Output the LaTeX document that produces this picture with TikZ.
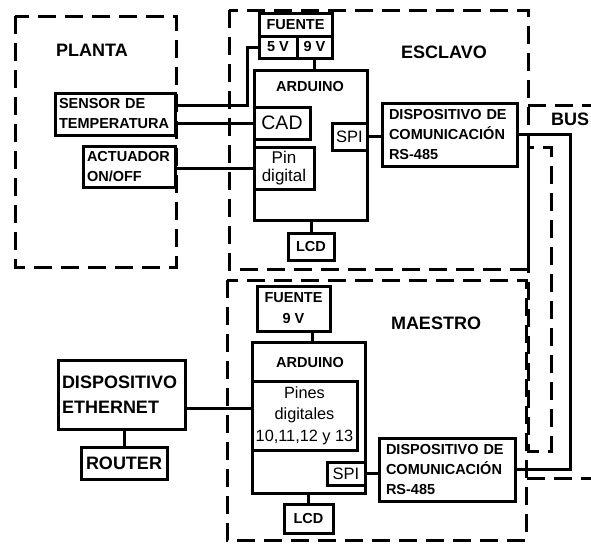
\documentclass[tikz,border=0pt]{standalone}
\usepackage{fontspec}
\setmainfont{Liberation Sans}

\begin{document}
\begin{tikzpicture}[
  x=1pt,y=-1pt,
  blk/.style={draw=black,line width=3pt,inner sep=0pt,
              font=\bfseries\fontsize{14.5}{20}\selectfont},
  txtbox/.style={blk,align=left,inner xsep=4pt},
  lbl/.style={inner sep=0pt,font=\bfseries\fontsize{14.5}{20}\selectfont},
  title/.style={inner sep=0pt,font=\bfseries\fontsize{18}{21}\selectfont},
  reg/.style={font=\fontsize{16.5}{18}\selectfont},
  zone/.style={line width=3pt,dash pattern=on 18pt off 9pt},
  wire/.style={line width=3pt}
]
\useasboundingbox (0,0) rectangle (591,544);

\draw[zone] (15,16) rectangle (176,267);
\draw[zone] (229,10) rectangle (528,269);
\draw[zone] (227,280) rectangle (526,540);
\draw[zone] (528,105) -- (591,105);
\draw[zone] (527,478) -- (591,478);
\draw[zone] (528,147) rectangle (551,451);

\node[title] (planta)  at (92,50)  {PLANTA};
\node[title] (esclavo) at (444,52) {ESCLAVO};
\node[title] (maestro) at (436,323) {MAESTRO};
\node[title,anchor=west] (bus) at (551,119.5) {BUS};

\node[txtbox,text width=112pt,minimum height=42pt] (sensor) at (115,114)
  {SENSOR DE\\TEMPERATURA};
\node[txtbox,text width=84pt,minimum height=41pt] (act) at (129,166.5)
  {ACTUADOR\\ON/OFF};

\node[blk,minimum width=73pt,minimum height=23pt] (fte1) at (295.5,24.5) {FUENTE};
\node[blk,minimum width=38pt,minimum height=22pt] (v5)   at (278,47)     {5 V};
\node[blk,minimum width=35pt,minimum height=22pt] (v9)   at (314.5,47)   {9 V};

\node[blk,minimum width=113pt,minimum height=150pt] (ard1) at (310.5,145) {};
\node[lbl] (ard1lbl) at (310,87) {ARDUINO};
\node[blk,font=\fontsize{19.5}{22}\selectfont,minimum width=56pt,minimum height=32pt]
  (cad) at (282,123) {CAD};
\node[blk,align=center,font=\fontsize{17}{18}\selectfont,minimum width=60pt,
      minimum height=42pt] (pin) at (284,168) {Pin\\digital};
\node[blk,reg,minimum width=35pt,minimum height=27pt] (spi1) at (349.5,136.5) {SPI};
\node[blk,minimum width=46pt,minimum height=27pt] (lcd1) at (311,246.5) {LCD};
\node[txtbox,inner xsep=7pt,text width=121pt,minimum height=63pt] (rs1) at (449.5,134.5)
  {DISPOSITIVO DE\\COMUNICACIÓN\\RS-485};

\node[txtbox,font=\bfseries\fontsize{18}{25}\selectfont,text width=119pt,
      minimum height=69pt] (eth) at (121.5,394.5) {DISPOSITIVO\\ETHERNET};
\node[blk,font=\bfseries\fontsize{18}{21}\selectfont,minimum width=86pt,
      minimum height=32pt] (router) at (124,463) {ROUTER};

\node[blk,align=center,font=\bfseries\fontsize{14.5}{21}\selectfont,
      minimum width=73pt,minimum height=45pt] (fte2) at (293.5,308.5) {FUENTE\\9 V};
\node[blk,minimum width=113pt,minimum height=151pt] (ard2) at (308.5,417.5) {};
\node[lbl] (ard2lbl) at (310,363) {ARDUINO};
\node[blk,align=center,font=\fontsize{16.3}{21.5}\selectfont,minimum width=105pt,
      minimum height=69pt] (pines) at (304.5,415.5) {Pines\\digitales\\10,11,12 y 13};
\node[blk,reg,minimum width=38pt,minimum height=23pt] (spi2) at (346,473.5) {SPI};
\node[blk,minimum width=49pt,minimum height=29pt] (lcd2) at (308.5,518.5) {LCD};
\node[txtbox,inner xsep=7pt,text width=122pt,minimum height=63pt] (rs2) at (447,469.5)
  {DISPOSITIVO DE\\COMUNICACIÓN\\RS-485};

\coordinate (k5) at (247,105);
\draw[wire] (sensor.east |- k5) -- (k5) |- (v5.west);
\draw[wire] (sensor.east |- cad.west) -- (cad.west);
\draw[wire] (act.east |- pin.west) -- (pin.west);
\draw[wire] (v9.south) -- (v9.south |- ard1.north);
\draw[wire] (lcd1.north |- ard1.south) -- (lcd1.north);
\draw[wire] (spi1.east) -- (spi1.east -| rs1.west);

\coordinate (kbus) at (570,300);
\draw[wire] (rs1.east) -| (kbus) |- (rs2.east);

\coordinate (keth) at (0,408);
\draw[wire] (eth.east |- keth) -- (pines.west |- keth);
\draw[wire] (router.north |- eth.south) -- (router.north);
\coordinate (kfte) at (312,0);
\draw[wire] (kfte |- fte2.south) -- (kfte |- ard2.north);
\draw[wire] (lcd2.north |- ard2.south) -- (lcd2.north);
\draw[wire] (spi2.east) -- (spi2.east -| rs2.west);
\end{tikzpicture}
\end{document}
